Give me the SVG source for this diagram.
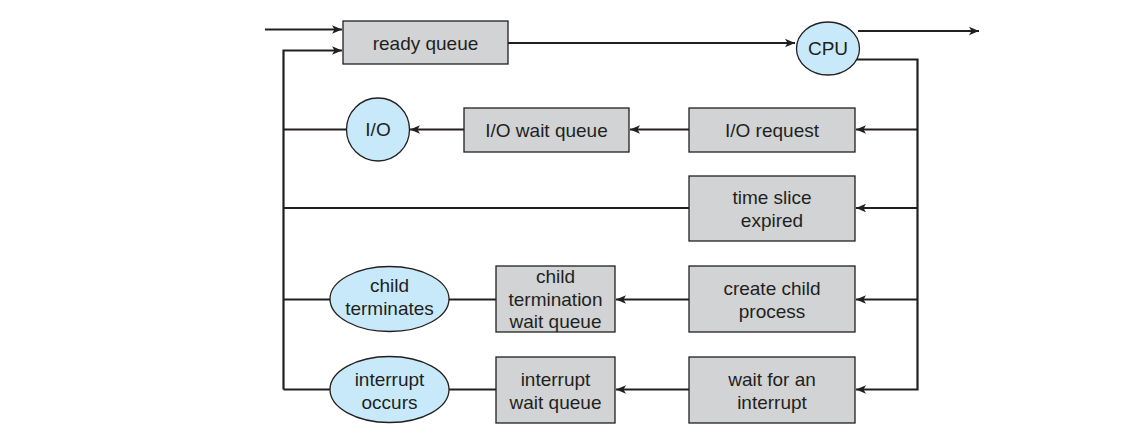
<svg xmlns="http://www.w3.org/2000/svg" width="1139" height="444" viewBox="0 0 1139 444">
<style>
.box{fill:#d1d3d4;stroke:#231f20;stroke-width:1.3}
.oval{fill:#c8e9f9;stroke:#231f20;stroke-width:1.3}
.ln{fill:none;stroke:#231f20;stroke-width:2.2}
.t{font-family:"Liberation Sans",Arial,sans-serif;font-size:19px;fill:#231f20;text-anchor:middle}
</style>
<defs>
<marker id="ah" markerUnits="userSpaceOnUse" markerWidth="12" markerHeight="10" viewBox="-10 -5 11 10" refX="0" refY="0" orient="auto">
<path d="M0,0 L-10,-4.2 L-7.5,0 L-10,4.2 Z" fill="#231f20"/>
</marker>
</defs>
<rect width="1139" height="444" fill="#fff"/>
<g id="connectors">
<path class="ln" d="M265,29.5 H342" marker-end="url(#ah)"/>
<path class="ln" d="M283.5,389.5 V50.5 H342" marker-end="url(#ah)"/>
<path class="ln" d="M508,43 H795" marker-end="url(#ah)"/>
<path class="ln" d="M858,31 H979" marker-end="url(#ah)"/>
<path class="ln" d="M855,59.5 H917.5 V389.5 H856" marker-end="url(#ah)"/>
<path class="ln" d="M917.5,129.5 H856" marker-end="url(#ah)"/>
<path class="ln" d="M917.5,208 H856" marker-end="url(#ah)"/>
<path class="ln" d="M917.5,299.5 H856" marker-end="url(#ah)"/>
<path class="ln" d="M689,129.5 H630" marker-end="url(#ah)"/>
<path class="ln" d="M464,129.5 H410" marker-end="url(#ah)"/>
<path class="ln" d="M347,129.5 H283.5"/>
<path class="ln" d="M689,208 H283.5"/>
<path class="ln" d="M689,299.5 H616" marker-end="url(#ah)"/>
<path class="ln" d="M496,299.5 H449"/>
<path class="ln" d="M330,299.5 H283.5"/>
<path class="ln" d="M689,389.5 H616" marker-end="url(#ah)"/>
<path class="ln" d="M496,389.5 H449"/>
<path class="ln" d="M330,389.5 H283.5"/>
</g>
<g id="ready-queue">
<rect class="box" x="343" y="21" width="165" height="43"/>
<text class="t" x="425.5" y="49.5">ready queue</text>
</g>
<g id="cpu">
<ellipse class="oval" cx="828" cy="48.5" rx="31.5" ry="26.5"/>
<text class="t" x="828" y="55">CPU</text>
</g>
<g id="io">
<circle class="oval" cx="378" cy="129.5" r="31.5"/>
<text class="t" x="378" y="136">I/O</text>
</g>
<g id="io-wait-queue">
<rect class="box" x="464" y="108" width="165" height="44"/>
<text class="t" x="546.5" y="136.5">I/O wait queue</text>
</g>
<g id="io-request">
<rect class="box" x="689" y="108" width="166" height="44"/>
<text class="t" x="772" y="136.5">I/O request</text>
</g>
<g id="time-slice">
<rect class="box" x="689" y="176" width="166" height="65"/>
<text class="t" x="772" y="204">time slice</text>
<text class="t" x="772" y="227">expired</text>
</g>
<g id="create-child">
<rect class="box" x="689" y="266" width="166" height="66"/>
<text class="t" x="772" y="294.5">create child</text>
<text class="t" x="772" y="317.5">process</text>
</g>
<g id="wait-interrupt">
<rect class="box" x="689" y="357" width="166" height="66"/>
<text class="t" x="772" y="385.5">wait for an</text>
<text class="t" x="772" y="408.5">interrupt</text>
</g>
<g id="child-termination-wait-queue">
<rect class="box" x="496" y="266" width="119" height="66"/>
<text class="t" x="555.5" y="282.5">child</text>
<text class="t" x="555.5" y="305.5">termination</text>
<text class="t" x="555.5" y="328">wait queue</text>
</g>
<g id="interrupt-wait-queue">
<rect class="box" x="496" y="357" width="119" height="66"/>
<text class="t" x="555.5" y="385.5">interrupt</text>
<text class="t" x="555.5" y="408.5">wait queue</text>
</g>
<g id="child-terminates">
<ellipse class="oval" cx="389.5" cy="299" rx="59.5" ry="32.5"/>
<text class="t" x="389.5" y="292">child</text>
<text class="t" x="389.5" y="314.5">terminates</text>
</g>
<g id="interrupt-occurs">
<ellipse class="oval" cx="389.5" cy="389.5" rx="59.5" ry="33"/>
<text class="t" x="389.5" y="385.5">interrupt</text>
<text class="t" x="389.5" y="408.5">occurs</text>
</g>
</svg>
